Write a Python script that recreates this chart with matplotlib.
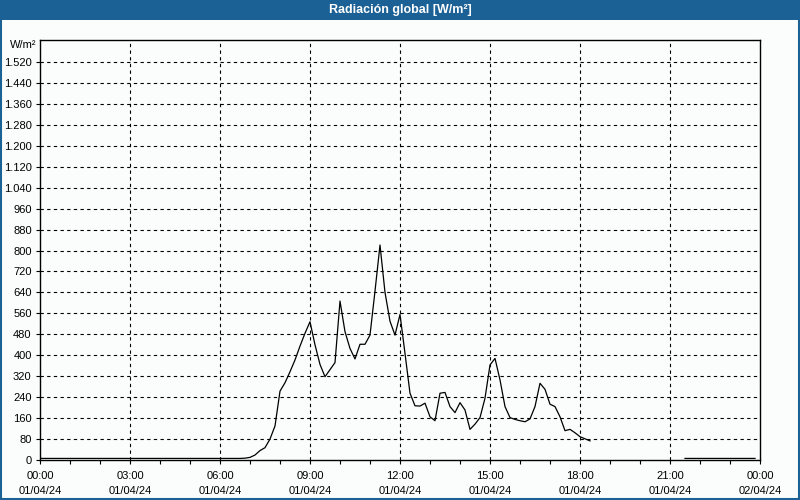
import numpy as np
import matplotlib
matplotlib.use("Agg")
import matplotlib.pyplot as plt
from matplotlib.patches import Rectangle

# ---- data ----
title = "Radiación global [W/m²]"
unit_label = "W/m²"
times = ["00:00", "06:40", "06:50", "07:00", "07:10", "07:20", "07:30", "07:40", "07:50",
         "08:00", "08:10", "08:20", "08:30", "08:40", "08:50", "09:00", "09:10", "09:20",
         "09:30", "09:40", "09:50", "10:00", "10:10", "10:20", "10:30", "10:40", "10:50",
         "11:00", "11:10", "11:20", "11:30", "11:40", "11:50", "12:00", "12:10", "12:20",
         "12:30", "12:40", "12:50", "13:00", "13:10", "13:20", "13:30", "13:40", "13:50",
         "14:00", "14:10", "14:20", "14:30", "14:40", "14:50", "15:00", "15:10", "15:20",
         "15:30", "15:40", "15:50", "16:00", "16:10", "16:20", "16:30", "16:40", "16:50",
         "17:00", "17:10", "17:20", "17:30", "17:40", "17:50", "18:00", "18:10", "18:20",
         "18:30", "21:30", "23:50"]
values = [6, 6, 7, 10, 19, 36, 47, 80, 130,
          263, 295, 337, 382, 435, 484, 528, 440, 365,
          318, 345, 372, 607, 490, 426, 386, 442, 442,
          477, 645, 821, 640, 530, 477, 556, 407, 255,
          207, 206, 217, 165, 150, 255, 258, 204, 181,
          219, 191, 117, 137, 162, 236, 363, 388, 306,
          204, 162, 155, 150, 146, 157, 204, 293, 270,
          213, 204, 165, 112, 117, 104, 89, 81, 73,
          None, 6, 6]
x_tick_hours = [0, 3, 6, 9, 12, 15, 18, 21, 24]
x_tick_labels = ["00:00\n01/04/24", "03:00\n01/04/24", "06:00\n01/04/24",
                 "09:00\n01/04/24", "12:00\n01/04/24", "15:00\n01/04/24",
                 "18:00\n01/04/24", "21:00\n01/04/24", "00:00\n02/04/24"]
y_ticks = [0, 80, 160, 240, 320, 400, 480, 560, 640, 720, 800, 880, 960,
           1040, 1120, 1200, 1280, 1360, 1440, 1520]

# ---- figure ----
plt.rcParams['font.family'] = ['Liberation Sans', 'DejaVu Sans']
bg = '#fbfdfc'
blue = '#1c6196'
fig = plt.figure(figsize=(8, 5), dpi=100, facecolor=bg)

# title bar and window border
fig.patches.append(Rectangle((0, 0.96), 1, 0.04, transform=fig.transFigure,
                             facecolor=blue, edgecolor='none', zorder=0))
fig.patches.append(Rectangle((0.0012, 0.002), 0.9976, 0.996, transform=fig.transFigure,
                             facecolor='none', edgecolor=blue, linewidth=1.5, zorder=5))
fig.text(0.5, 0.98, title, color='white', fontsize=9, fontweight='bold',
         ha='center', va='center')

ax = fig.add_axes([0.05, 0.08, 0.90, 0.84])
ax.set_facecolor(bg)

hours = [int(t[:2]) + int(t[3:]) / 60 for t in times]
yv = np.array([np.nan if v is None else v for v in values], dtype=float)
ax.plot(hours, yv, color='black', linewidth=0.9, zorder=3)

ax.set_xlim(0, 24)
ax.set_ylim(0, 1604)
ax.set_xticks(x_tick_hours)
ax.set_xticklabels(x_tick_labels, fontsize=8, linespacing=1.6)
ax.set_xticks(range(0, 25), minor=True)
ax.set_yticks(y_ticks)
ax.set_yticklabels([f"{v:,}".replace(",", ".") for v in y_ticks], fontsize=8)
ax.tick_params(axis='both', which='both', direction='out', length=3, width=0.8,
               color='black', pad=3)
ax.tick_params(axis='x', which='major', pad=5)

for v in y_ticks[1:]:
    ax.axhline(v, color='black', linewidth=0.8, linestyle=(0, (3, 3)), zorder=1)
for h in x_tick_hours[1:-1]:
    ax.axvline(h, color='black', linewidth=0.8, linestyle=(0, (3, 3)), zorder=1)

for s in ax.spines.values():
    s.set_linewidth(1.0)
    s.set_color('black')

fig.text(0.012, 0.91, unit_label, fontsize=8, ha='left', va='center')

fig.savefig("out.png", dpi=100, facecolor=bg)
